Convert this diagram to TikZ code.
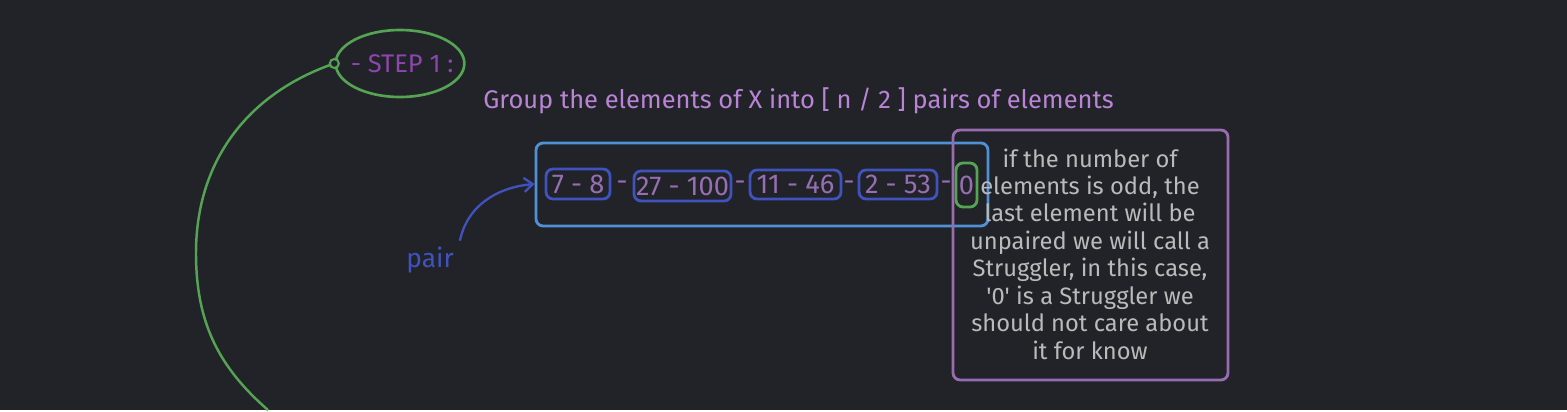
\documentclass[tikz,border=0pt]{standalone}
\usepackage{fontspec}
\setmainfont{Fira Sans}
\usetikzlibrary{positioning, shapes.geometric, arrows.meta, calc, fit}

\definecolor{bgdark}{RGB}{33,35,40}
\definecolor{stepgreen}{RGB}{84,164,84}
\definecolor{stepviolet}{RGB}{140,70,175}
\definecolor{titleviolet}{RGB}{185,132,214}
\definecolor{listblue}{RGB}{80,144,212}
\definecolor{pairblue}{RGB}{64,82,190}
\definecolor{numviolet}{RGB}{150,110,178}
\definecolor{noteviolet}{RGB}{152,108,176}
\definecolor{notegray}{RGB}{186,186,186}

\begin{document}
\begin{tikzpicture}[
		x=0.02cm, y=-0.02cm,
		% --- ESTILOS ---
		stepnode/.style={
			ellipse, draw=stepgreen, line width=1.5pt, minimum width=2.54cm, minimum height=1.34cm,
			inner xsep=-4.5pt, inner ysep=0pt, text=stepviolet, font=\fontsize{14.5}{16}\selectfont
		},
		pairbox/.style={
			rectangle, draw=pairblue, rounded corners=4pt, line width=1.6pt, inner sep=0pt,
			minimum height=0.6cm, text=numviolet, font=\fontsize{15.5}{17}\selectfont
		},
		lonebox/.style={
			pairbox, draw=stepgreen, minimum width=0.42cm, minimum height=0.88cm
		},
		sep/.style={
			text=numviolet, inner sep=0pt, font=\fontsize{15.5}{17}\selectfont
		},
		listbox/.style={
			rectangle, draw=listblue, rounded corners=4pt, line width=1.6pt
		},
		notebox/.style={
			rectangle, draw=noteviolet, rounded corners=4pt, line width=1.6pt,
			minimum width=5.5cm, minimum height=5cm
		},
		line/.style={
			draw=pairblue, line width=1.3pt, -{Straight Barb[length=5pt, width=8pt]}
		}
	]
	
	% --- Fondo ---
	\fill [bgdark] (0,0) rectangle (1567,410);
	
	% --- 1. Paso ---
	\node [stepnode] (step) at (400,63.5) {\,- STEP 1 :};
	\coordinate (arc_end) at (268,410);
	\coordinate (arc_left) at (196,253);
	\draw [stepgreen, line width=1.4pt] (step.west) to[out=199, in=90] (arc_left) to[out=270, in=139] (arc_end);
	\draw [stepgreen, line width=1.2pt, fill=bgdark] (step.west) circle (4.5);
	
	% --- 2. Titulo ---
	\node [text=titleviolet, font=\fontsize{14.5}{16}\selectfont] (title) at (798.5,101)
		{Group the elements of X into [ n / 2 ] pairs of elements};
	
	% --- 3. La lista de pares ---
	\node [pairbox, minimum width=1.28cm] (p1) at (578,184) {7 - 8};
	\node [pairbox, minimum width=1.94cm] (p2) at (682.5,186) {27 - 100};
	\node [pairbox, minimum width=1.82cm, minimum height=0.58cm] (p3) at (795.5,184.5) {11 - 46};
	\node [pairbox, minimum width=1.56cm, minimum height=0.58cm] (p4) at (898,184.5) {2 - 53};
	\node [lonebox] (s0) at (966.5,185) {0};
	
	\node [sep] (d1) at (622,186) {-};
	\node [sep] (d2) at (740,186) {-};
	\node [sep] (d3) at (849,186) {-};
	\node [sep] (d4) at (946,186) {-};
	
	\node [listbox, minimum width=9.04cm, minimum height=1.66cm] (list) at (762,184.5) {};
	
	% --- 4. Etiqueta "pair" ---
	\node [text=pairblue, font=\fontsize{15}{17}\selectfont] (pair) at (430,260) {pair};
	\draw [line] (pair.north east) to[out=78, in=185] (list.west |- p1);
	
	% --- 5. Nota ---
	\node [notebox] (note) at (1090.5,255) {};
	\node [text=notegray, align=center, font=\fontsize{13.5}{15.6}\selectfont] (note_text) at (1090,254) {
		if the number of\\
		elements is odd, the\\
		last element will be\\
		unpaired we will call a\\
		Struggler, in this case,\\
		\textquotesingle 0\textquotesingle{} is a Struggler we\\
		should not care about\\
		it for know
	};
	
\end{tikzpicture}
\end{document}
